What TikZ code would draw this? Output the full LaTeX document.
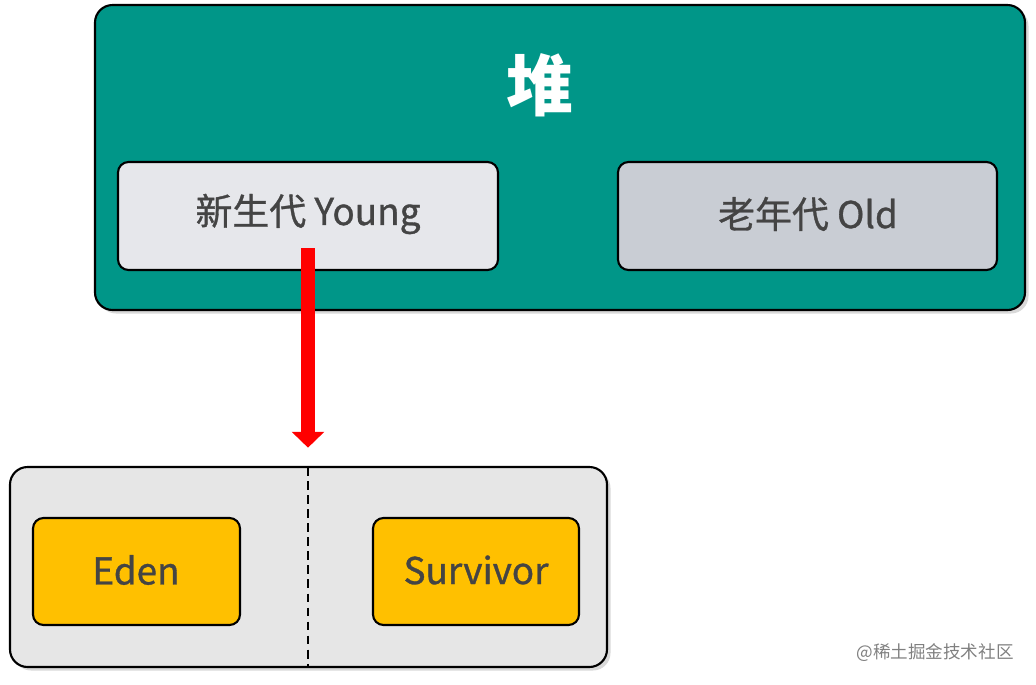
\documentclass[tikz,border=0pt]{standalone}
\usepackage{fontspec}
\setmainfont{Noto Sans CJK SC}
\newfontfamily\medfont{Noto Sans CJK SC}[FakeBold=0.9]
\usetikzlibrary{arrows.meta,shadows,calc}

\definecolor{heapteal}{HTML}{009688}
\definecolor{younggray}{HTML}{E6E7EB}
\definecolor{oldgray}{HTML}{C9CDD4}
\definecolor{genbg}{HTML}{E6E6E6}
\definecolor{spaceyellow}{HTML}{FFC000}
\definecolor{textgray}{HTML}{444444}

\tikzset{
	box/.style={draw=black, line width=1.2pt, rounded corners=6pt},
	label text/.style={text=textgray, font=\medfont\fontsize{21}{25}\selectfont},
}

\begin{document}
\begin{tikzpicture}[x=0.02cm, y=-0.02cm]

% bounding box %{{{2

	\useasboundingbox (0,0) rectangle (1036,684);

% heap %{{{2

	\draw[box, fill=heapteal, rounded corners=10pt, drop shadow={shadow xshift=2pt, shadow yshift=-2pt, opacity=0.3}]
		(95,5) rectangle (1025,310);
	\node[text=white, font=\fontsize{38}{44}\selectfont\bfseries] (heap) at (540,85) {堆};

% generations %{{{2

	\draw[box, fill=younggray] (118,162) rectangle (498,270);
	\node[label text] (young) at (308,214) {新生代 Young};

	\draw[box, fill=oldgray] (618,162) rectangle (997,270);
	\node[label text] (old) at (808,214) {老年代 Old};

% young generation detail %{{{2

	\draw[box, fill=genbg, rounded corners=10pt, drop shadow={shadow xshift=2pt, shadow yshift=-2pt, opacity=0.3}]
		(10,467) rectangle (607,667);
	\coordinate (gen) at (308,467);
	\coordinate (genb) at (308,667);
	\draw[line width=1.2pt, dash pattern=on 5pt off 3pt] (gen) -- (genb);

	\draw[box, fill=spaceyellow] (33,518) rectangle (240,625);
	\node[label text] (eden) at (136,570) {Eden};

	\draw[box, fill=spaceyellow] (373,518) rectangle (579,625);
	\node[label text] (surv) at (476,570) {Survivor};

% arrow %{{{2

	\coordinate (ystart) at (308,248);
	\draw[red, line width=8pt, -{Triangle[length=9pt, width=18pt]}, shorten >=11pt] (ystart) -- (gen);

% watermark %{{{2

	\node[text=gray, font=\fontsize{10}{12}\selectfont] (mark) at (935,653) {@稀土掘金技术社区};

\end{tikzpicture}
\end{document}
